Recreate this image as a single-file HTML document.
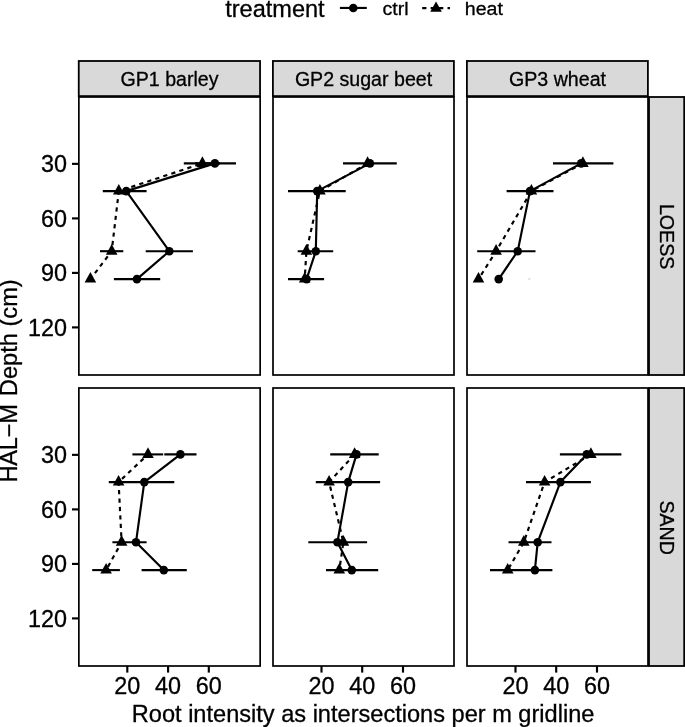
<!DOCTYPE html>
<html><head><meta charset="utf-8"><title>Root intensity</title>
<style>
html,body{margin:0;padding:0;background:#fff;}
svg{display:block;}
text{font-family:"Liberation Sans", Arial, sans-serif;fill:#000;stroke:#000;stroke-width:0.3px;}
.ax{font-size:24px;}
.ti{font-size:23.55px;}
.st{font-size:19.6px;}
.lg{font-size:18.6px;}
</style></head><body>
<svg width="685" height="727" viewBox="0 0 685 727">
<rect x="0" y="0" width="685" height="727" fill="#fff"/>
<text class="ti" x="225.2" y="16.5">treatment</text>
<line x1="339.9" y1="7.95" x2="366.8" y2="7.95" stroke="#000" stroke-width="2.15"/>
<circle cx="353.3" cy="7.95" r="4.3" fill="#000"/>
<text class="lg" transform="translate(382.5,15.1) scale(1.055,1)">ctrl</text>
<line x1="422.2" y1="8.05" x2="450.0" y2="8.05" stroke="#000" stroke-width="2.15" stroke-dasharray="4.22 4.22"/>
<polygon points="436.05,1.6 430.25,11.85 441.85,11.85" fill="#000"/>
<text class="lg" transform="translate(464.8,15.1) scale(1.055,1)">heat</text>
<rect x="78.75" y="61.0" width="181.3" height="35.1" fill="#d9d9d9" stroke="#000" stroke-width="1.8"/>
<text class="st" x="169.5" y="85.6" text-anchor="middle">GP1 barley</text>
<rect x="272.90" y="61.0" width="181.0" height="35.1" fill="#d9d9d9" stroke="#000" stroke-width="1.8"/>
<text class="st" x="363.5" y="85.6" text-anchor="middle">GP2 sugar beet</text>
<rect x="466.90" y="61.0" width="181.0" height="35.1" fill="#d9d9d9" stroke="#000" stroke-width="1.8"/>
<text class="st" x="557.5" y="85.6" text-anchor="middle">GP3 wheat</text>
<rect x="649.0" y="97.0" width="35.2" height="278.0" fill="#d9d9d9" stroke="#000" stroke-width="1.8"/>
<text class="st" transform="translate(659.7,236.6) rotate(90)" text-anchor="middle">LOESS</text>
<rect x="649.0" y="388.0" width="35.2" height="278.0" fill="#d9d9d9" stroke="#000" stroke-width="1.8"/>
<text class="st" transform="translate(659.7,527.6) rotate(90)" text-anchor="middle">SAND</text>
<rect x="78.85" y="97.0" width="181.3" height="278.0" fill="#fff" stroke="none"/>
<line x1="183.8" y1="163.4" x2="220.0" y2="163.4" stroke="#000" stroke-width="2.1"/>
<line x1="195.0" y1="163.4" x2="236.0" y2="163.4" stroke="#000" stroke-width="2.1"/>
<line x1="102.8" y1="191.1" x2="146.6" y2="191.1" stroke="#000" stroke-width="2.1"/>
<line x1="100.0" y1="251.2" x2="123.3" y2="251.2" stroke="#000" stroke-width="2.1"/>
<line x1="145.7" y1="251.2" x2="192.9" y2="251.2" stroke="#000" stroke-width="2.1"/>
<line x1="113.9" y1="279.1" x2="160.2" y2="279.1" stroke="#000" stroke-width="2.1"/>
<polyline points="214.9,163.4 126.3,191.1 169.3,251.2 136.9,279.1" fill="none" stroke="#000" stroke-width="2.15" stroke-linejoin="round"/>
<polyline points="202.4,163.4 118.8,191.1 111.7,251.2 90.4,279.1" fill="none" stroke="#000" stroke-width="2.15" stroke-dasharray="4.22 4.22" stroke-dashoffset="-3.2" stroke-linejoin="round"/>
<circle cx="214.9" cy="163.4" r="4.3" fill="#000"/>
<circle cx="126.3" cy="191.1" r="4.3" fill="#000"/>
<circle cx="169.3" cy="251.2" r="4.3" fill="#000"/>
<circle cx="136.9" cy="279.1" r="4.3" fill="#000"/>
<polygon points="202.40,156.35 196.60,166.90 208.20,166.90" fill="#000"/>
<polygon points="118.80,184.00 113.00,194.55 124.60,194.55" fill="#000"/>
<polygon points="111.70,244.10 105.90,254.65 117.50,254.65" fill="#000"/>
<polygon points="90.40,272.00 84.60,282.55 96.20,282.55" fill="#000"/>
<rect x="78.85" y="97.0" width="181.3" height="278.0" fill="none" stroke="#000" stroke-width="1.7"/>
<rect x="273.0" y="97.0" width="181.0" height="278.0" fill="#fff" stroke="none"/>
<line x1="343.0" y1="163.4" x2="396.8" y2="163.4" stroke="#000" stroke-width="2.1"/>
<line x1="288.0" y1="191.1" x2="345.7" y2="191.1" stroke="#000" stroke-width="2.1"/>
<line x1="297.7" y1="251.2" x2="333.2" y2="251.2" stroke="#000" stroke-width="2.1"/>
<line x1="288.0" y1="279.1" x2="324.1" y2="279.1" stroke="#000" stroke-width="2.1"/>
<polyline points="369.9,163.4 317.2,191.1 315.8,251.2 306.6,279.1" fill="none" stroke="#000" stroke-width="2.15" stroke-linejoin="round"/>
<polyline points="367.6,163.4 319.9,191.1 306.4,251.2 304.7,279.1" fill="none" stroke="#000" stroke-width="2.15" stroke-dasharray="4.22 4.22" stroke-dashoffset="0" stroke-linejoin="round"/>
<circle cx="369.9" cy="163.4" r="4.3" fill="#000"/>
<circle cx="317.2" cy="191.1" r="4.3" fill="#000"/>
<circle cx="315.8" cy="251.2" r="4.3" fill="#000"/>
<circle cx="306.6" cy="279.1" r="4.3" fill="#000"/>
<polygon points="367.60,156.35 361.80,166.90 373.40,166.90" fill="#000"/>
<polygon points="319.90,184.00 314.10,194.55 325.70,194.55" fill="#000"/>
<polygon points="306.40,244.10 300.60,254.65 312.20,254.65" fill="#000"/>
<polygon points="304.70,272.00 298.90,282.55 310.50,282.55" fill="#000"/>
<rect x="273.0" y="97.0" width="181.0" height="278.0" fill="none" stroke="#000" stroke-width="1.7"/>
<rect x="467.0" y="97.0" width="181.0" height="278.0" fill="#fff" stroke="none"/>
<line x1="553.0" y1="163.4" x2="613.4" y2="163.4" stroke="#000" stroke-width="2.1"/>
<line x1="506.6" y1="191.1" x2="553.5" y2="191.1" stroke="#000" stroke-width="2.1"/>
<line x1="477.2" y1="251.2" x2="535.5" y2="251.2" stroke="#000" stroke-width="2.1"/>
<polyline points="581.2,163.4 530.0,191.1 517.7,251.2 498.7,279.1" fill="none" stroke="#000" stroke-width="2.15" stroke-linejoin="round"/>
<polyline points="582.9,163.4 531.4,191.1 496.1,251.2 478.5,279.1" fill="none" stroke="#000" stroke-width="2.15" stroke-dasharray="4.22 4.22" stroke-dashoffset="0" stroke-linejoin="round"/>
<circle cx="581.2" cy="163.4" r="4.3" fill="#000"/>
<circle cx="530.0" cy="191.1" r="4.3" fill="#000"/>
<circle cx="517.7" cy="251.2" r="4.3" fill="#000"/>
<circle cx="498.7" cy="279.1" r="4.3" fill="#000"/>
<polygon points="582.90,156.35 577.10,166.90 588.70,166.90" fill="#000"/>
<polygon points="531.40,184.00 525.60,194.55 537.20,194.55" fill="#000"/>
<polygon points="496.10,244.10 490.30,254.65 501.90,254.65" fill="#000"/>
<polygon points="478.50,272.00 472.70,282.55 484.30,282.55" fill="#000"/>
<rect x="467.0" y="97.0" width="181.0" height="278.0" fill="none" stroke="#000" stroke-width="1.7"/>
<rect x="78.85" y="388.0" width="181.3" height="278.0" fill="#fff" stroke="none"/>
<line x1="132.4" y1="454.4" x2="163.2" y2="454.4" stroke="#000" stroke-width="2.1"/>
<line x1="164.3" y1="454.4" x2="196.5" y2="454.4" stroke="#000" stroke-width="2.1"/>
<line x1="108.8" y1="482.1" x2="174.3" y2="482.1" stroke="#000" stroke-width="2.1"/>
<line x1="112.4" y1="542.2" x2="146.6" y2="542.2" stroke="#000" stroke-width="2.1"/>
<line x1="92.2" y1="570.1" x2="119.9" y2="570.1" stroke="#000" stroke-width="2.1"/>
<line x1="141.6" y1="570.1" x2="186.8" y2="570.1" stroke="#000" stroke-width="2.1"/>
<polyline points="180.4,454.4 144.3,482.1 136.0,542.2 163.8,570.1" fill="none" stroke="#000" stroke-width="2.15" stroke-linejoin="round"/>
<polyline points="148.0,454.4 118.6,482.1 121.6,542.2 106.1,570.1" fill="none" stroke="#000" stroke-width="2.15" stroke-dasharray="4.22 4.22" stroke-dashoffset="2.3" stroke-linejoin="round"/>
<circle cx="180.4" cy="454.4" r="4.3" fill="#000"/>
<circle cx="144.3" cy="482.1" r="4.3" fill="#000"/>
<circle cx="136.0" cy="542.2" r="4.3" fill="#000"/>
<circle cx="163.8" cy="570.1" r="4.3" fill="#000"/>
<polygon points="148.00,447.35 142.20,457.90 153.80,457.90" fill="#000"/>
<polygon points="118.60,475.00 112.80,485.55 124.40,485.55" fill="#000"/>
<polygon points="121.60,535.10 115.80,545.65 127.40,545.65" fill="#000"/>
<polygon points="106.10,563.00 100.30,573.55 111.90,573.55" fill="#000"/>
<rect x="78.85" y="388.0" width="181.3" height="278.0" fill="none" stroke="#000" stroke-width="1.7"/>
<rect x="273.0" y="388.0" width="181.0" height="278.0" fill="#fff" stroke="none"/>
<line x1="330.2" y1="454.4" x2="378.7" y2="454.4" stroke="#000" stroke-width="2.1"/>
<line x1="315.8" y1="482.1" x2="380.1" y2="482.1" stroke="#000" stroke-width="2.1"/>
<line x1="308.3" y1="542.2" x2="367.1" y2="542.2" stroke="#000" stroke-width="2.1"/>
<line x1="326.0" y1="570.1" x2="378.2" y2="570.1" stroke="#000" stroke-width="2.1"/>
<polyline points="356.5,454.4 348.2,482.1 337.4,542.2 351.8,570.1" fill="none" stroke="#000" stroke-width="2.15" stroke-linejoin="round"/>
<polyline points="354.6,454.4 329.1,482.1 343.4,542.2 339.3,570.1" fill="none" stroke="#000" stroke-width="2.15" stroke-dasharray="4.22 4.22" stroke-dashoffset="0" stroke-linejoin="round"/>
<circle cx="356.5" cy="454.4" r="4.3" fill="#000"/>
<circle cx="348.2" cy="482.1" r="4.3" fill="#000"/>
<circle cx="337.4" cy="542.2" r="4.3" fill="#000"/>
<circle cx="351.8" cy="570.1" r="4.3" fill="#000"/>
<polygon points="354.60,447.35 348.80,457.90 360.40,457.90" fill="#000"/>
<polygon points="329.10,475.00 323.30,485.55 334.90,485.55" fill="#000"/>
<polygon points="343.40,535.10 337.60,545.65 349.20,545.65" fill="#000"/>
<polygon points="339.30,563.00 333.50,573.55 345.10,573.55" fill="#000"/>
<rect x="273.0" y="388.0" width="181.0" height="278.0" fill="none" stroke="#000" stroke-width="1.7"/>
<rect x="467.0" y="388.0" width="181.0" height="278.0" fill="#fff" stroke="none"/>
<line x1="559.9" y1="454.4" x2="621.4" y2="454.4" stroke="#000" stroke-width="2.1"/>
<line x1="526.0" y1="482.1" x2="590.9" y2="482.1" stroke="#000" stroke-width="2.1"/>
<line x1="508.5" y1="542.2" x2="551.5" y2="542.2" stroke="#000" stroke-width="2.1"/>
<line x1="490.0" y1="570.1" x2="552.4" y2="570.1" stroke="#000" stroke-width="2.1"/>
<polyline points="586.8,454.4 560.4,482.1 537.7,542.2 534.9,570.1" fill="none" stroke="#000" stroke-width="2.15" stroke-linejoin="round"/>
<polyline points="590.9,454.4 544.6,482.1 523.8,542.2 507.7,570.1" fill="none" stroke="#000" stroke-width="2.15" stroke-dasharray="4.22 4.22" stroke-dashoffset="0" stroke-linejoin="round"/>
<circle cx="586.8" cy="454.4" r="4.3" fill="#000"/>
<circle cx="560.4" cy="482.1" r="4.3" fill="#000"/>
<circle cx="537.7" cy="542.2" r="4.3" fill="#000"/>
<circle cx="534.9" cy="570.1" r="4.3" fill="#000"/>
<polygon points="590.90,447.35 585.10,457.90 596.70,457.90" fill="#000"/>
<polygon points="544.60,475.00 538.80,485.55 550.40,485.55" fill="#000"/>
<polygon points="523.80,535.10 518.00,545.65 529.60,545.65" fill="#000"/>
<polygon points="507.70,563.00 501.90,573.55 513.50,573.55" fill="#000"/>
<rect x="467.0" y="388.0" width="181.0" height="278.0" fill="none" stroke="#000" stroke-width="1.7"/>
<line x1="72" y1="163.86" x2="78.7" y2="163.86" stroke="#000" stroke-width="2.15"/>
<text class="ax" transform="translate(67.0,172.26) scale(0.975,1)" text-anchor="end">30</text>
<line x1="72" y1="218.40" x2="78.7" y2="218.40" stroke="#000" stroke-width="2.15"/>
<text class="ax" transform="translate(67.0,226.80) scale(0.975,1)" text-anchor="end">60</text>
<line x1="72" y1="272.90" x2="78.7" y2="272.90" stroke="#000" stroke-width="2.15"/>
<text class="ax" transform="translate(67.0,281.30) scale(0.975,1)" text-anchor="end">90</text>
<line x1="72" y1="327.40" x2="78.7" y2="327.40" stroke="#000" stroke-width="2.15"/>
<text class="ax" transform="translate(67.0,335.80) scale(0.975,1)" text-anchor="end">120</text>
<line x1="72" y1="454.86" x2="78.7" y2="454.86" stroke="#000" stroke-width="2.15"/>
<text class="ax" transform="translate(67.0,463.26) scale(0.975,1)" text-anchor="end">30</text>
<line x1="72" y1="509.40" x2="78.7" y2="509.40" stroke="#000" stroke-width="2.15"/>
<text class="ax" transform="translate(67.0,517.80) scale(0.975,1)" text-anchor="end">60</text>
<line x1="72" y1="563.90" x2="78.7" y2="563.90" stroke="#000" stroke-width="2.15"/>
<text class="ax" transform="translate(67.0,572.30) scale(0.975,1)" text-anchor="end">90</text>
<line x1="72" y1="618.40" x2="78.7" y2="618.40" stroke="#000" stroke-width="2.15"/>
<text class="ax" transform="translate(67.0,626.80) scale(0.975,1)" text-anchor="end">120</text>
<line x1="127.3" y1="666" x2="127.3" y2="672.6" stroke="#000" stroke-width="2.15"/>
<text class="ax" transform="translate(127.3,694.4) scale(0.975,1)" text-anchor="middle">20</text>
<line x1="168.1" y1="666" x2="168.1" y2="672.6" stroke="#000" stroke-width="2.15"/>
<text class="ax" transform="translate(168.1,694.4) scale(0.975,1)" text-anchor="middle">40</text>
<line x1="208.8" y1="666" x2="208.8" y2="672.6" stroke="#000" stroke-width="2.15"/>
<text class="ax" transform="translate(208.8,694.4) scale(0.975,1)" text-anchor="middle">60</text>
<line x1="321.5" y1="666" x2="321.5" y2="672.6" stroke="#000" stroke-width="2.15"/>
<text class="ax" transform="translate(321.5,694.4) scale(0.975,1)" text-anchor="middle">20</text>
<line x1="362.2" y1="666" x2="362.2" y2="672.6" stroke="#000" stroke-width="2.15"/>
<text class="ax" transform="translate(362.2,694.4) scale(0.975,1)" text-anchor="middle">40</text>
<line x1="403.0" y1="666" x2="403.0" y2="672.6" stroke="#000" stroke-width="2.15"/>
<text class="ax" transform="translate(403.0,694.4) scale(0.975,1)" text-anchor="middle">60</text>
<line x1="515.5" y1="666" x2="515.5" y2="672.6" stroke="#000" stroke-width="2.15"/>
<text class="ax" transform="translate(515.5,694.4) scale(0.975,1)" text-anchor="middle">20</text>
<line x1="556.2" y1="666" x2="556.2" y2="672.6" stroke="#000" stroke-width="2.15"/>
<text class="ax" transform="translate(556.2,694.4) scale(0.975,1)" text-anchor="middle">40</text>
<line x1="597.0" y1="666" x2="597.0" y2="672.6" stroke="#000" stroke-width="2.15"/>
<text class="ax" transform="translate(597.0,694.4) scale(0.975,1)" text-anchor="middle">60</text>
<text class="ti" x="363.1" y="721.9" text-anchor="middle" style="font-size:23.58px">Root intensity as intersections per m gridline</text>
<text class="ti" transform="translate(17.4,380.9) rotate(-90)" text-anchor="middle" style="font-size:23.65px"><tspan letter-spacing="-0.27">HAL−</tspan>M<tspan dx="1.3"> </tspan>Depth (cm)</text>
<rect x="528.3" y="278.3" width="2" height="1.4" fill="#d2d2d2"/>
</svg></body></html>
